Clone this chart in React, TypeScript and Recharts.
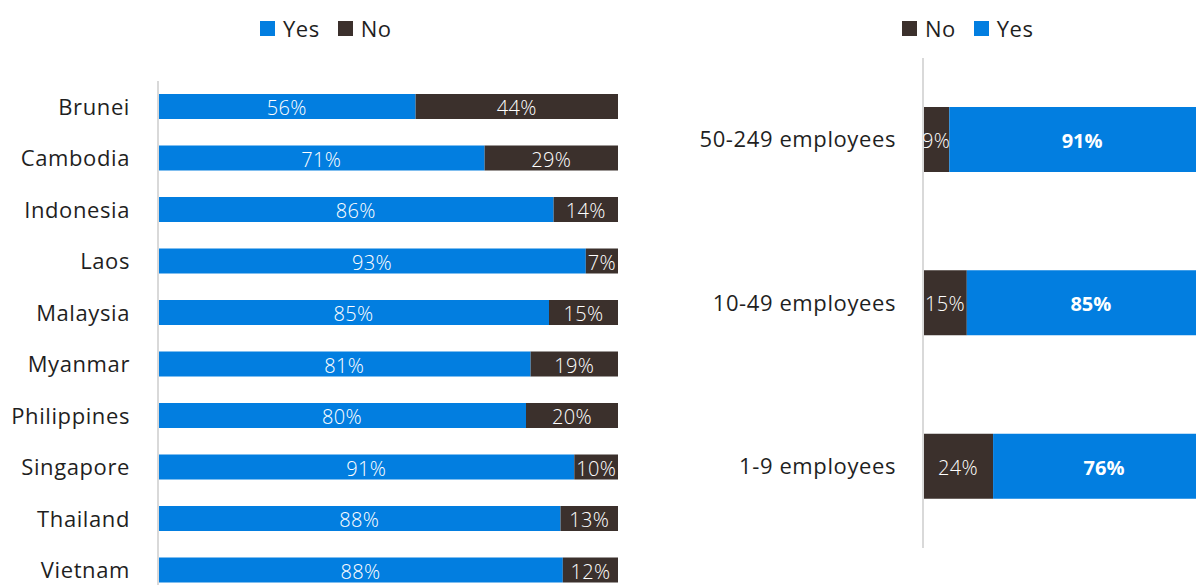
import { Bar, BarChart, LabelList, XAxis, YAxis } from "recharts";

const countries = [
  "Brunei",
  "Cambodia",
  "Indonesia",
  "Laos",
  "Malaysia",
  "Myanmar",
  "Philippines",
  "Singapore",
  "Thailand",
  "Vietnam",
];
const countryYes = [56, 71, 86, 93, 85, 81, 80, 90.5, 87.5, 88];
const countryNo = [44, 29, 14, 7, 15, 19, 20, 9.5, 12.5, 12];

const sizes = ["50-249 employees", "10-49 employees", "1-9 employees"];
const sizeNo = [9, 15, 24];
const sizeYes = [91, 85, 76];

const BLUE = "#027ee0";
const DARK = "#3b302c";
const AXIS = "#d9d9d9";
const FONT = "'Open Sans', 'DejaVu Sans', sans-serif";

const countryData = countries.map((name, i) => ({ name, yes: countryYes[i], no: countryNo[i] }));
const sizeData = sizes.map((name, i) => ({ name, no: sizeNo[i], yes: sizeYes[i] }));

// centred white % label, clipped to its bar (the 9% on the right spills over)
function makeLabel(prefix: string, bold: boolean) {
  return (props: any) => {
    const { x, y, width, height, value, index } = props;
    const id = `clip-${prefix}-${index}`;
    return (
      <g>
        <defs>
          <clipPath id={id}>
            <rect x={x} y={y} width={width} height={height} />
          </clipPath>
        </defs>
        <text
          x={Number(x) + Number(width) / 2}
          y={Number(y) + Number(height) / 2 + 1}
          textAnchor="middle"
          dominantBaseline="central"
          fill="#ffffff"
          fontSize={20}
          fontWeight={bold ? 700 : 300}
          fontFamily={FONT}
          letterSpacing={bold ? 0 : 0.3}
          clipPath={`url(#${id})`}
        >
          {Math.round(Number(value))}%
        </text>
      </g>
    );
  };
}

function LegendRow({ items, left }: { items: { label: string; color: string }[]; left: number }) {
  return (
    <div
      style={{
        position: "absolute",
        left,
        top: 16,
        display: "flex",
        alignItems: "center",
        fontFamily: FONT,
        fontSize: 22,
        letterSpacing: 0.5,
        color: "#1f1f1f",
        height: 24,
      }}
    >
      {items.map((it) => (
        <div key={it.label} style={{ display: "flex", alignItems: "center", marginRight: 18 }}>
          <span style={{ width: 15, height: 15, background: it.color, display: "inline-block", marginRight: 8 }} />
          <span>{it.label}</span>
        </div>
      ))}
    </div>
  );
}

const tickStyle = { fill: "#1f1f1f", fontSize: 22, fontFamily: FONT, letterSpacing: 0.6 };

export default function App() {
  return (
    <div
      style={{
        position: "absolute",
        left: 0,
        top: 0,
        width: 1196,
        height: 585,
        overflow: "hidden",
        background: "#fff",
      }}
    >
      <LegendRow
        left={260}
        items={[
          { label: "Yes", color: BLUE },
          { label: "No", color: DARK },
        ]}
      />
      <LegendRow
        left={902}
        items={[
          { label: "No", color: DARK },
          { label: "Yes", color: BLUE },
        ]}
      />
      <div style={{ position: "absolute", left: 0, top: 0 }}>
        <BarChart
          width={640}
          height={596}
          data={countryData}
          layout="vertical"
          margin={{ top: 81, right: 22, bottom: 0, left: 0 }}
        >
          <XAxis type="number" domain={[0, 100]} hide />
          <YAxis
            type="category"
            dataKey="name"
            width={158}
            tickLine={false}
            tickSize={0}
            tickMargin={28}
            axisLine={{ stroke: AXIS, strokeWidth: 2 }}
            tick={tickStyle}
            interval={0}
          />
          <Bar dataKey="yes" stackId="a" fill={BLUE} barSize={25} isAnimationActive={false}>
            <LabelList dataKey="yes" content={makeLabel("cy", false)} />
          </Bar>
          <Bar dataKey="no" stackId="a" fill={DARK} barSize={25} isAnimationActive={false}>
            <LabelList dataKey="no" content={makeLabel("cn", false)} />
          </Bar>
        </BarChart>
      </div>
      <div style={{ position: "absolute", left: 660, top: 0 }}>
        <BarChart
          width={555}
          height={548}
          data={sizeData}
          layout="vertical"
          margin={{ top: 58, right: 0, bottom: 0, left: 0 }}
        >
          <XAxis type="number" domain={[0, 100]} hide />
          <YAxis
            type="category"
            dataKey="name"
            width={263}
            tickLine={false}
            tickSize={0}
            tickMargin={27}
            axisLine={{ stroke: AXIS, strokeWidth: 2 }}
            tick={tickStyle}
            interval={0}
          />
          <Bar dataKey="no" stackId="b" fill={DARK} barSize={65} isAnimationActive={false}>
            <LabelList dataKey="no" content={makeLabel("sn", false)} />
          </Bar>
          <Bar dataKey="yes" stackId="b" fill={BLUE} barSize={65} isAnimationActive={false}>
            <LabelList dataKey="yes" content={makeLabel("sy", true)} />
          </Bar>
        </BarChart>
      </div>
    </div>
  );
}
